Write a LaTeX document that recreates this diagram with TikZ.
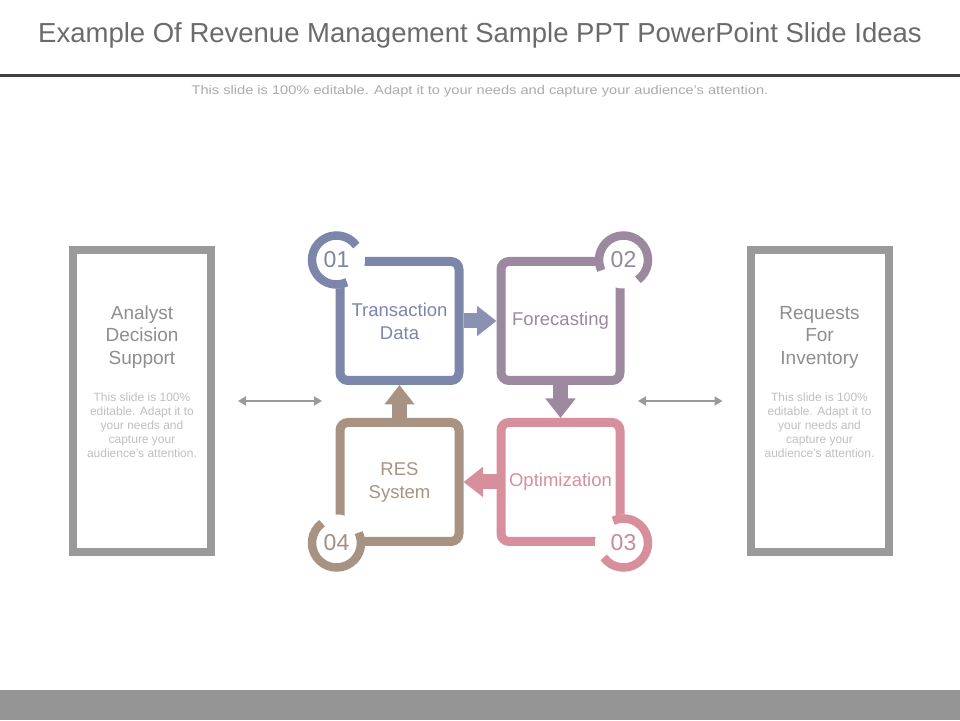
\documentclass[tikz,border=0pt]{standalone}
\usepackage{fontspec}
\setmainfont{Liberation Sans}
\usetikzlibrary{positioning,calc,arrows.meta}

\definecolor{txcol}{HTML}{7C86AA}
\definecolor{fccol}{HTML}{9C889F}
\definecolor{opcol}{HTML}{D88F9D}
\definecolor{rscol}{HTML}{A89383}
\definecolor{framegray}{HTML}{9A9A9A}
\definecolor{titlegray}{HTML}{6B6B6B}
\definecolor{rulegray}{HTML}{404040}
\definecolor{subgray}{HTML}{ABABAB}
\definecolor{headgray}{HTML}{8E8E8E}
\definecolor{notegray}{HTML}{C0C0C0}
\definecolor{bargray}{HTML}{959595}

\begin{document}
\begin{tikzpicture}[x=1pt, y=1pt, node distance=33pt,
    stage/.style={rectangle, draw, rounded corners=8pt, line width=9pt, minimum width=119pt, minimum height=119pt, align=center, font=\fontsize{18.5}{23}\selectfont},
    side/.style={rectangle, draw=framegray, fill=white, line width=8pt, minimum width=138pt, minimum height=302pt},
    sidehead/.style={align=center, text=headgray, font=\fontsize{19}{22.5}\selectfont},
    sidenote/.style={align=center, text=notegray, font=\fontsize{12}{14}\selectfont},
    badge/.style={circle, fill=white, minimum size=57pt, inner sep=0pt, font=\fontsize{23}{23}\selectfont},
    flow/.style={line width=15pt, -{Triangle[length=19.5pt, width=29pt]}},
    link/.style={line width=2.5pt, framegray, {Triangle[length=8pt, width=9pt]}-{Triangle[length=8pt, width=9pt]}}]

% Page
\useasboundingbox (0,0) rectangle (960,720);
\fill[white] (0,0) rectangle (960,720);
\fill[bargray] (0,0) rectangle (960,30);

% Heading
\node[text=titlegray, font=\fontsize{27.5}{27.5}\selectfont] (title) at (480,685) {Example Of Revenue Management Sample PPT PowerPoint Slide Ideas};
\draw[rulegray, line width=3pt] (0,644) -- (960,644);
\node[text=subgray, font=\fontsize{12.5}{12.5}\selectfont] (subtitle) at (480,629) {\scalebox{1.17}[1]{This slide is 100\% editable. Adapt it to your needs and capture your audience's attention.}};

% Side panels
\node[side] (analyst) at (142,319) {};
\node[sidehead] (analysthead) at ([yshift=64pt]analyst.center) {Analyst\\Decision\\Support};
\node[sidenote] (analystnote) at ([yshift=-24pt]analyst.center) {This slide is 100\%\\editable. Adapt it to\\your needs and\\capture your\\audience's attention.};

\node[side] (requests) at (819.5,319) {};
\node[sidehead] (requestshead) at ([yshift=64pt]requests.center) {Requests\\For\\Inventory};
\node[sidenote] (requestsnote) at ([yshift=-24pt]requests.center) {This slide is 100\%\\editable. Adapt it to\\your needs and\\capture your\\audience's attention.};

% Cycle stages
\node[stage, draw=txcol, text=txcol] (trans) at (399.5,399) {Transaction\\Data};
\node[stage, draw=fccol, text=fccol, right=of trans] (fore) {Forecasting};
\node[stage, draw=opcol, text=opcol, below=of fore] (optim) {Optimization};
\node[stage, draw=rscol, text=rscol, left=of optim] (res) {RES\\System};

% Cycle arrows
\draw[flow, txcol!90!white] (trans) -- (fore);
\draw[flow, fccol] (fore) -- (optim);
\draw[flow, opcol] (optim) -- (res);
\draw[flow, rscol] (res) -- (trans);

% Number badges
\node[badge, text=txcol!80!gray] (num1) at ([shift={(1,-3)}]trans.north west) {01};
\node[badge, text=fccol!80!gray] (num2) at ([shift={(-1,-3)}]fore.north east) {02};
\node[badge, text=opcol!80!gray] (num3) at ([shift={(-1,3)}]optim.south east) {03};
\node[badge, text=rscol!80!gray] (num4) at ([shift={(1,3)}]res.south west) {04};

\draw[txcol, line width=8.5pt] ($(num1.center)+(36:24.5pt)$) arc[start angle=36, delta angle=259, radius=24.5pt];
\draw[fccol, line width=8.5pt] ($(num2.center)+(-54:24.5pt)$) arc[start angle=-54, delta angle=259, radius=24.5pt];
\draw[opcol, line width=8.5pt] ($(num3.center)+(216:24.5pt)$) arc[start angle=216, delta angle=259, radius=24.5pt];
\draw[rscol, line width=8.5pt] ($(num4.center)+(126:24.5pt)$) arc[start angle=126, delta angle=259, radius=24.5pt];

% Links to side panels
\draw[link] ($(analyst.east)+(23,0)$) -- ($(analyst.east -| trans.west)+(-13.5,0)$);
\draw[link] ($(requests.west)+(-24,0)$) -- ($(requests.west -| fore.east)+(13.5,0)$);

\end{tikzpicture}
\end{document}
